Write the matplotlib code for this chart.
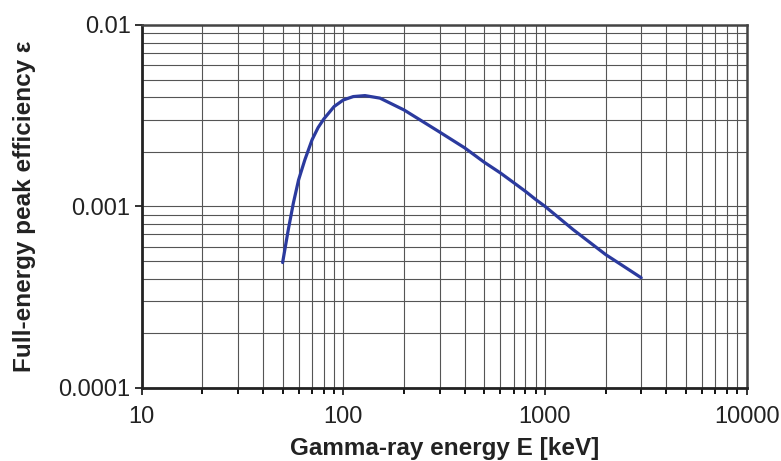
import matplotlib
matplotlib.use("Agg")
import matplotlib.pyplot as plt
from matplotlib.ticker import LogLocator, FixedFormatter, FixedLocator, NullFormatter

plt.rcParams['font.family'] = ['Liberation Sans', 'DejaVu Sans']

# Efficiency curve: energy (keV) and full-energy peak efficiency
energy_kev = [50, 53.3, 56.5, 60, 64.5, 70, 75, 80, 90, 100, 112, 128, 152,
              200, 300, 400, 500, 600, 700, 800, 900, 1000, 1380, 2000, 3000]
efficiency = [0.00049, 0.00074, 0.00104, 0.0014, 0.00181, 0.00233, 0.00272,
              0.00303, 0.00355, 0.00386, 0.00403, 0.00408, 0.00395, 0.0034,
              0.00257, 0.0021, 0.00175, 0.00153, 0.00135, 0.00121, 0.00109,
              0.001, 0.000744, 0.000542, 0.000404]

x_ticks = [10, 100, 1000, 10000]
x_tick_labels = ['10', '100', '1000', '10000']
y_ticks = [0.0001, 0.001, 0.01]
y_tick_labels = ['0.0001', '0.001', '0.01']

fig = plt.figure(figsize=(7.81, 4.61), dpi=100)
ax = fig.add_axes([0.1814, 0.159, 0.7746, 0.7868])

ax.plot(energy_kev, efficiency, color='#2B3A9E', linewidth=2.3,
        solid_capstyle='round', solid_joinstyle='round', zorder=3)

ax.set_xscale('log')
ax.set_yscale('log')
ax.set_xlim(10, 10000)
ax.set_ylim(0.0001, 0.01)

ax.xaxis.set_major_locator(FixedLocator(x_ticks))
ax.xaxis.set_major_formatter(FixedFormatter(x_tick_labels))
ax.xaxis.set_minor_locator(LogLocator(base=10, subs=range(2, 10)))
ax.xaxis.set_minor_formatter(NullFormatter())
ax.yaxis.set_major_locator(FixedLocator(y_ticks))
ax.yaxis.set_major_formatter(FixedFormatter(y_tick_labels))
ax.yaxis.set_minor_locator(LogLocator(base=10, subs=range(2, 10)))
ax.yaxis.set_minor_formatter(NullFormatter())

ax.grid(True, which='both', color='#555555', linewidth=0.8)
ax.set_axisbelow(True)

# ticks: x ticks on all decades and subdivisions, y ticks on majors only
ax.tick_params(axis='x', which='major', direction='out', length=5, width=1.3,
               labelsize=17, colors='#222222', pad=8)
ax.tick_params(axis='x', which='minor', direction='out', length=4, width=1.3)
ax.tick_params(axis='y', which='major', direction='out', length=5, width=1.3,
               labelsize=17, colors='#222222', pad=3)
ax.tick_params(axis='y', which='minor', length=0)

for side in ['left', 'bottom']:
    ax.spines[side].set_linewidth(2.0)
    ax.spines[side].set_color('#222222')
for side in ['top', 'right']:
    ax.spines[side].set_linewidth(1.8)
    ax.spines[side].set_color('#444444')

ax.set_xlabel('Gamma-ray energy E [keV]', fontsize=17.5, fontweight='bold',
              color='#222222', labelpad=7)
ax.set_ylabel('Full-energy peak efficiency ε', fontsize=17.5,
              fontweight='bold', color='#222222', labelpad=16)

fig.savefig('out.png', dpi=100)
